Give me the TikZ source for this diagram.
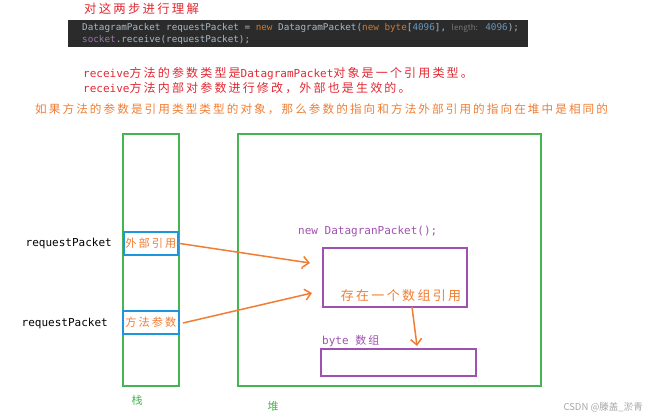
\documentclass[tikz,border=0pt]{standalone}
\usepackage{fontspec}
\setmainfont{Noto Sans CJK SC}
\newfontfamily\cjk[LetterSpace=18]{Noto Sans CJK SC}
\newfontfamily\mono{DejaVu Sans Mono}
\newfontfamily\wm{Noto Sans CJK SC}
\usetikzlibrary{arrows.meta}
\definecolor{gr}{RGB}{70,180,80}
\definecolor{bl}{RGB}{30,150,220}
\definecolor{orng}{RGB}{240,125,50}
\definecolor{purp}{RGB}{160,80,175}
\definecolor{rd}{RGB}{225,40,50}
\definecolor{codebg}{RGB}{43,43,43}
\definecolor{codefg}{RGB}{169,183,198}
\definecolor{kw}{RGB}{204,120,50}
\definecolor{num}{RGB}{104,151,187}
\definecolor{hint}{RGB}{120,120,120}
\definecolor{var}{RGB}{152,118,170}
\begin{document}
\begin{tikzpicture}[x=1pt,y=-1pt,
  box/.style={draw=#1, line width=1.6pt, inner sep=0pt},
  arr/.style={draw=orng, line width=1.5pt, -{Straight Barb[length=6pt,width=11pt]}},
  lbl/.style={inner sep=0pt, anchor=base west}]
\useasboundingbox (0,0) rectangle (650,418);
% title
\node[lbl, text=rd] (title) at (84,13) {\fontsize{12.4}{14}\cjk 对这两步进行理解};
% code block
\node[fill=codebg, minimum width=460pt, minimum height=27pt, anchor=north west, inner sep=0pt] (code) at (68,20) {};
\node[lbl, text=codefg] (c1) at (82,30.5) {\fontsize{9.3}{11}\mono DatagramPacket requestPacket = \textcolor{kw}{new} DatagramPacket(\textcolor{kw}{new byte}[\textcolor{num}{4096}], \textcolor{hint}{\wm\fontsize{8}{10}\selectfont length:} \textcolor{num}{4096});};
\node[lbl, text=codefg] (c2) at (82,42.5) {\fontsize{9.3}{11}\mono \textcolor{var}{socket}.receive(requestPacket);};
% red lines
\node[lbl, text=rd] (r1) at (83,77) {\fontsize{12}{14}\selectfont{\mono\fontsize{11}{14}\selectfont receive}\cjk 方法的参数类型是{\mono\fontsize{11}{14}\selectfont DatagramPacket}对象是一个引用类型。};
\node[lbl, text=rd] (r2) at (83,92) {\fontsize{12}{14}\selectfont{\mono\fontsize{11}{14}\selectfont receive}\cjk 方法内部对参数进行修改，外部也是生效的。};
% orange line
\node[lbl, text=orng] (o1) at (35,113) {\fontsize{11.6}{14}\cjk 如果方法的参数是引用类型类型的对象，那么参数的指向和方法外部引用的指向在堆中是相同的};
% stack and heap
\node[box=gr, minimum width=56pt, minimum height=252pt, anchor=north west] (stack) at (122,133) {};
\node[box=gr, minimum width=303pt, minimum height=252pt, anchor=north west] (heap) at (237,133) {};
\node[text=gr, inner sep=0pt] (stk) at (137,400) {\fontsize{11}{13}\cjk 栈};
\node[text=gr, inner sep=0pt] (hp) at (273,406) {\fontsize{11}{13}\cjk 堆};
% stack slots
\node[box=bl, minimum width=54pt, minimum height=23pt, anchor=north west, text=orng] (ext) at (123,231) {\fontsize{11.2}{13}\cjk 外部引用};
\node[box=bl, minimum width=56pt, minimum height=23pt, anchor=north west, text=orng] (par) at (122,310) {\fontsize{11.2}{13}\cjk 方法参数};
\node[anchor=east, inner sep=0pt] (rp1) at (112,243) {\fontsize{11}{13}\mono requestPacket};
\node[anchor=east, inner sep=0pt] (rp2) at (108,323) {\fontsize{11}{13}\mono requestPacket};
% heap objects
\node[lbl, text=purp] (newdp) at (298,234) {\fontsize{11}{13}\mono new DatagranPacket();};
\node[box=purp, minimum width=144pt, minimum height=59pt, anchor=north west] (obj) at (322,247) {};
\node[text=orng, inner sep=0pt] (arref) at (401,296) {\fontsize{13}{15}\cjk 存在一个数组引用};
\node[lbl, text=purp] (bytel) at (322,344) {\fontsize{11}{13}\mono byte {\cjk 数组}};
\node[box=purp, minimum width=155pt, minimum height=27pt, anchor=north west] (arr) at (320,348) {};
% arrows
\coordinate (t1) at (310,263);
\coordinate (s2) at (183,323);
\coordinate (t2) at (312,293);
\coordinate (s3) at (412,307);
\coordinate (t3) at (417,346);
\draw[arr] (ext.east) -- (t1);
\draw[arr] (s2) -- (t2);
\draw[arr] (s3) -- (t3);
\fill[orng] (302,268) circle (1pt);
% watermark
\node[anchor=east, text=gray!70, inner sep=0pt] (wmk) at (643,407) {\fontsize{9.5}{11}\wm CSDN @滕盖\_淤青};
\end{tikzpicture}
\end{document}
